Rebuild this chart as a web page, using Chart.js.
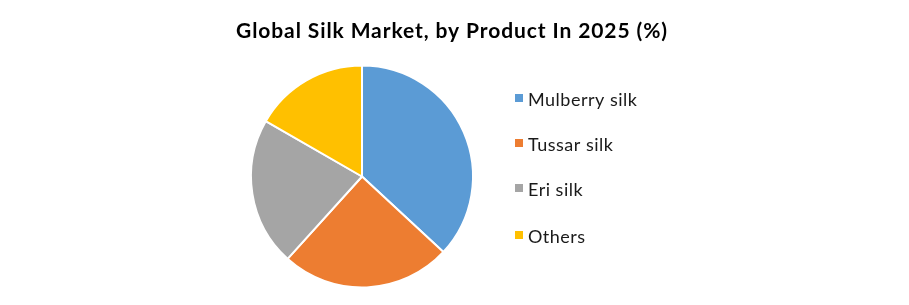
<!DOCTYPE html>
<html>
<head>
<meta charset="utf-8">
<script src="https://cdn.jsdelivr.net/npm/chart.js@4"></script>
<style>
html,body{margin:0;padding:0;background:#fff;}
#wrap{position:relative;width:909px;height:305px;}
</style>
</head>
<body>
<div id="wrap"><canvas id="c" width="909" height="305"></canvas></div>
<script>
const TITLE = "Global Silk Market, by Product In 2025 (%)";
const categories = ["Mulberry silk", "Tussar silk", "Eri silk", "Others"];
const shares = [36.9, 24.8, 21.6, 16.7];
const colors = ["#5B9BD5", "#ED7D31", "#A5A5A5", "#FFC000"];

const FONT = "Lato, 'Open Sans', sans-serif";

const customLegend = {
  id: 'customLegend',
  afterDraw(chart) {
    const ctx = chart.ctx;
    ctx.save();
    // title
    ctx.font = "bold 21px " + FONT;
    ctx.letterSpacing = "0.9px";
    ctx.fillStyle = "#000";
    ctx.textAlign = "left";
    ctx.textBaseline = "alphabetic";
    const tw = ctx.measureText(TITLE).width;
    ctx.fillText(TITLE, 452 - tw / 2, 37.5);
    // legend
    const labels = chart.data.labels;
    const bg = chart.data.datasets[0].backgroundColor;
    const baselines = [106, 151, 196, 243];
    ctx.font = "18px " + FONT;
    ctx.letterSpacing = "0.5px";
    labels.forEach((l, i) => {
      ctx.fillStyle = bg[i];
      ctx.fillRect(515, baselines[i] - 12, 8, 8);
      ctx.fillStyle = "#1a1a1a";
      ctx.fillText(l, 528, baselines[i]);
    });
    ctx.restore();
  }
};

new Chart(document.getElementById('c'), {
  type: 'pie',
  data: {
    labels: categories,
    datasets: [{
      data: shares,
      backgroundColor: colors,
      borderColor: '#ffffff',
      borderWidth: 2
    }]
  },
  options: {
    responsive: false,
    animation: false,
    layout: { padding: { left: 250, right: 435, top: 64.5, bottom: 16.5 } },
    plugins: {
      legend: { display: false },
      title: { display: false },
      tooltip: { enabled: false }
    }
  },
  plugins: [customLegend]
});
</script>
</body>
</html>
